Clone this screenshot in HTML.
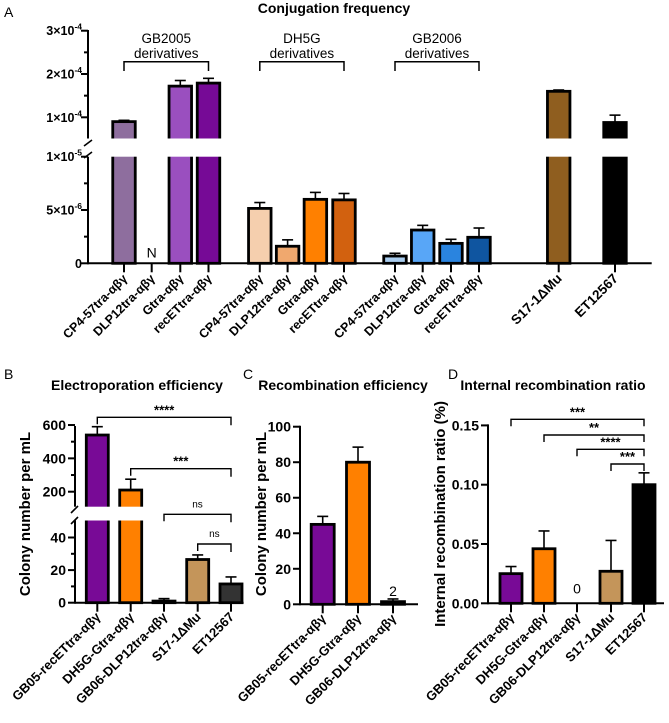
<!DOCTYPE html>
<html><head><meta charset="utf-8"><style>
html,body{margin:0;padding:0;background:#fff;}
svg{display:block;font-family:"Liberation Sans",Arial,sans-serif;}
</style></head><body>
<svg id="fig" width="669" height="723" viewBox="0 0 669 723" xmlns="http://www.w3.org/2000/svg"></svg>
<script>
// ---------- Panel A data ----------
const aCategories = ["CP4-57tra-αβγ","DLP12tra-αβγ","Gtra-αβγ","recETtra-αβγ","CP4-57tra-αβγ","DLP12tra-αβγ","Gtra-αβγ","recETtra-αβγ","CP4-57tra-αβγ","DLP12tra-αβγ","Gtra-αβγ","recETtra-αβγ","S17-1ΔMu","ET12567"];
const aValues = [0.90e-4, 0, 1.72e-4, 1.79e-4, 5.15e-6, 1.6e-6, 6.0e-6, 5.95e-6, 0.68e-6, 3.12e-6, 1.87e-6, 2.44e-6, 1.6e-4, 0.88e-4];
const aErrors = [0.93e-4, 0, 1.85e-4, 1.9e-4, 5.7e-6, 2.2e-6, 6.65e-6, 6.55e-6, 0.94e-6, 3.56e-6, 2.25e-6, 3.31e-6, 1.63e-4, 1.05e-4];
const aColors = ["#8e6e9e","#9b59b6","#9a4fbf","#760a96","#f5cfae","#f0a86e","#ff8000","#d2610f","#a9ccee","#58a6f7","#2a84df","#0f55a0","#8f5e1f","#000000"];
const aGroups = ["GB2005","DH5G","GB2006"];
const aUpperTicks = [1e-4, 2e-4, 3e-4];
const aUpperTickLabels = ["1×10","2×10","3×10"];
const aUpperExp = ["-4","-4","-4"];
const aLowerTicks = [0, 5e-6, 1e-5];
const aLowerTickLabels = ["0","5×10","1×10"];
const aLowerExp = ["","-6","-5"];
// ---------- Panel B data ----------
const bCategories = ["GB05-recETtra-αβγ","DH5G-Gtra-αβγ","GB06-DLP12tra-αβγ","S17-1ΔMu","ET12567"];
const bValues = [540, 210, 1, 26.5, 11.5];
const bErrors = [590, 275, 2.5, 29.3, 15.8];
const bColors = ["#780a96","#ff8000","#999999","#c4955a","#333333"];
const bUpperTicks = [200, 400, 600];
const bLowerTicks = [0, 20, 40];
const bSig = ["****","***","ns","ns"];
const bSigFrom = [0, 1, 2, 3];
// ---------- Panel C data ----------
const cCategories = ["GB05-recETtra-αβγ","DH5G-Gtra-αβγ","GB06-DLP12tra-αβγ"];
const cValues = [45, 80, 1.5];
const cErrors = [49.5, 88.5, 3];
const cColors = ["#780a96","#ff8000","#999999"];
const cTicks = [0, 20, 40, 60, 80, 100];
// ---------- Panel D data ----------
const dCategories = ["GB05-recETtra-αβγ","DH5G-Gtra-αβγ","GB06-DLP12tra-αβγ","S17-1ΔMu","ET12567"];
const dValues = [0.025, 0.046, 0, 0.027, 0.1];
const dErrors = [0.031, 0.061, 0, 0.053, 0.11];
const dColors = ["#780a96","#ff8000","#999999","#c4955a","#000000"];
const dTicks = [0, 0.05, 0.10, 0.15];
const dTickLabels = ["0.00","0.05","0.10","0.15"];
const dSig = ["***","**","****","***"];
const dSigFrom = [0, 1, 2, 3];

const NS = "http://www.w3.org/2000/svg";
const svg = document.getElementById("fig");
function mk(tag, attrs, parent) {
  const e = document.createElementNS(NS, tag);
  for (const k in attrs) e.setAttribute(k, attrs[k]);
  (parent || svg).appendChild(e);
  return e;
}
function line(x1, y1, x2, y2, w, parent) {
  return mk("line", {x1, y1, x2, y2, stroke: "#000", "stroke-width": w || 2}, parent);
}
function txt(x, y, s, size, anchor, weight, parent) {
  const t = mk("text", {x, y, "font-size": size, "text-anchor": anchor || "middle", "font-weight": weight || "bold", fill: "#000"}, parent);
  t.textContent = s;
  return t;
}
function xlabel(x, y, s, size, parent) {
  const t = mk("text", {x, y, "font-size": size, "text-anchor": "end", "font-weight": "bold", transform: "rotate(-45 " + x + " " + y + ")"}, parent);
  t.textContent = s;
  return t;
}
function drawBar(parent, cx, yTop, yBase, w, fill) {
  return mk("rect", {x: cx - w / 2, y: yTop, width: w, height: Math.max(0, yBase - yTop), fill, stroke: "#000", "stroke-width": 2.8}, parent);
}
function drawErr(parent, cx, yTop, yBar) {
  const g = mk("g", {}, parent);
  line(cx, yBar, cx, yTop, 1.6, g);
  line(cx - 5.5, yTop, cx + 5.5, yTop, 1.6, g);
  return g;
}

// Titles & panel letters
const labelsMeta = [["A", 4, 17], ["B", 4, 379], ["C", 243, 379], ["D", 448, 379]];
labelsMeta.forEach(m => {
  const t = mk("text", {x: m[1], y: m[2], "font-size": 14, fill: "#000"});
  
  
  t.textContent = m[0];
});
const tA = txt(334, 13, "Conjugation frequency", 14);


const tB = txt(137, 390, "Electroporation efficiency", 14);


const tC = txt(343, 390, "Recombination efficiency", 14);


const tD = txt(553, 390, "Internal recombination ratio", 14);



// ================= Panel A =================
const gA = mk("g", {});


const axA = 88, zeroA = 263.3, breakTopA = 138.5, breakBotA = 156.7;
function yA(v) {
  if (v <= 1e-5) return zeroA - v * 1e6 * 10.66;
  return 117.3 - (v - 1e-4) / 1e-4 * 43.3;
}
const xA = [124, 151.7, 180.3, 208.5, 259.8, 287.6, 315.4, 344, 395, 422.7, 451, 479, 558.7, 615];
aValues.forEach((v, i) => {
  const cx = xA[i];
  if (v > 0) {
    const b = drawBar(gA, cx, yA(v), zeroA, 22.5, aColors[i]);
    
    
    const e = drawErr(gA, cx, yA(aErrors[i]), yA(v));
    
    
    if (v > 1e-5) {
      const gap = mk("rect", {x: cx - 14, y: breakTopA, width: 28, height: breakBotA - breakTopA, fill: "#fff"}, gA);
      
      
    }
  } else {
    const n = txt(cx, zeroA - 6, "N", 14, "middle", "normal", gA);
    
    
  }
  line(cx, zeroA, cx, zeroA + 9, 2, gA);
  const lb = xlabel(cx + 4, zeroA + 16, aCategories[i], i >= 12 ? 13.5 : 12.5, gA);
  
  
});
line(axA, 30, axA, breakTopA, 2, gA);
line(axA, breakBotA, axA, zeroA + 1, 2, gA);
line(axA - 4, 146, axA + 4, 140, 1.6, gA);
line(axA - 4, 158, axA + 4, 152, 1.6, gA);
const xaxA = line(axA, zeroA, 651.7, zeroA, 2, gA);


function expLabel(x, y, base, exp, parent) {
  const t = mk("text", {x, y, "font-size": 12.5, "text-anchor": "end", "font-weight": "bold"}, parent);
  t.appendChild(document.createTextNode(base));
  if (exp) {
    const s = mk("tspan", {dy: -5.5, "font-size": 8.5}, t);
    s.textContent = exp;
  }
  return t;
}
aUpperTicks.forEach((v, i) => {
  const y = yA(v);
  line(axA - 7, y, axA, y, 2, gA);
  const l = expLabel(axA - 6, y + 4.5, aUpperTickLabels[i], aUpperExp[i], gA);
  
  
});
[1.5e-4, 2.5e-4].forEach(v => line(axA - 4, yA(v), axA, yA(v), 2, gA));
aLowerTicks.forEach((v, i) => {
  const y = yA(v);
  line(axA - 7, y, axA, y, 2, gA);
  const l = expLabel(axA - 6, y + 4.5, aLowerTickLabels[i], aLowerExp[i], gA);
  
  
});
[2.5e-6, 7.5e-6].forEach(v => line(axA - 4, yA(v), axA, yA(v), 2, gA));
aGroups.forEach((g, k) => {
  const x1 = xA[k * 4], x2 = xA[k * 4 + 3], xm = (x1 + x2) / 2;
  const br = mk("path", {d: `M${x1},71 L${x1},61.7 L${x2},61.7 L${x2},71`, fill: "none", stroke: "#000", "stroke-width": 1.5}, gA);
  
  
  const t1 = txt(xm, 43, g, 13.5, "middle", "normal", gA);
  
  
  const t2 = txt(xm, 58, "derivatives", 13.5, "middle", "normal", gA);
  
  
});

// ================= Panel B =================
const gB = mk("g", {});


const axB = 75, zeroB = 602.7, bBreakTop = 506.7, bBreakBot = 520.5;
function yB(v) {
  if (v <= 50) return zeroB - v * 1.63;
  return 491.7 - (v - 200) * 0.1667;
}
const xB = [97.3, 130.7, 164, 197.7, 231];
bValues.forEach((v, i) => {
  const cx = xB[i];
  const b = drawBar(gB, cx, yB(v), zeroB, 22, bColors[i]);
  
  
  const e = drawErr(gB, cx, yB(bErrors[i]), yB(v));
  
  
  if (v > 50) {
    const gap = mk("rect", {x: cx - 14, y: bBreakTop, width: 28, height: bBreakBot - bBreakTop, fill: "#fff"}, gB);
    
    
  }
  line(cx, zeroB, cx, zeroB + 9, 2, gB);
  const lb = xlabel(cx + 4, zeroB + 15, bCategories[i], 13, gB);
  
  
});
line(axB, 426, axB, bBreakTop, 2, gB);
line(axB, bBreakBot, axB, zeroB + 1, 2, gB);
line(axB - 4, 513, axB + 3, 506, 1.6, gB);
line(axB - 4, 524, axB + 3, 517, 1.6, gB);
const xaxB = line(axB, zeroB, 243.6, zeroB, 2, gB);


bUpperTicks.concat(bLowerTicks).forEach(v => {
  const y = yB(v);
  line(axB - 7, y, axB, y, 2, gB);
  const l = txt(axB - 9, y + 5, String(v), 14, "end", "bold", gB);
  
  
});
[300, 500, 10, 30].forEach(v => line(axB - 4, yB(v), axB, yB(v), 2, gB));
const yTitleB = mk("text", {x: 0, y: 0, "font-size": 15, "font-weight": "bold", "text-anchor": "middle", transform: "translate(30 514) rotate(-90)"}, gB);


yTitleB.textContent = "Colony number per mL";
const bSigY = [417.3, 468.7, 514.3, 544];
bSig.forEach((s, k) => {
  const x1 = xB[bSigFrom[k]], x2 = xB[4], y = bSigY[k];
  const p = mk("path", {d: `M${x1},${y + 7} L${x1},${y} L${x2},${y} L${x2},${y + 8}`, fill: "none", stroke: "#000", "stroke-width": 1.4}, gB);
  
  
  const t = txt((x1 + x2) / 2, s === "ns" ? y - 7 : y - 3, s, s === "ns" ? 10 : 13, "middle", s === "ns" ? "normal" : "bold", gB);
  
  
});

// ================= Panel C =================
const gC = mk("g", {});


const axC = 300, zeroC = 604.3;
function yC(v) { return zeroC - v * 1.776; }
const xC = [322.7, 358, 393];
cValues.forEach((v, i) => {
  const cx = xC[i];
  const b = drawBar(gC, cx, yC(v), zeroC, 23, cColors[i]);
  
  
  const e = drawErr(gC, cx, yC(cErrors[i]), yC(v));
  
  
  line(cx, zeroC, cx, zeroC + 9, 2, gC);
  const lb = xlabel(cx + 4, zeroC + 15, cCategories[i], 13, gC);
  
  
});
const cLbl = txt(xC[2], yC(cErrors[2]) - 3, "2", 14, "middle", "normal", gC);


line(axC, yC(100) - 1, axC, zeroC + 1, 2, gC);
const xaxC = line(axC, zeroC, 418, zeroC, 2, gC);


cTicks.forEach(v => {
  const y = yC(v);
  line(axC - 7, y, axC, y, 2, gC);
  const l = txt(axC - 9, y + 5, String(v), 14, "end", "bold", gC);
  
  
});
const yTitleC = mk("text", {x: 0, y: 0, "font-size": 15, "font-weight": "bold", "text-anchor": "middle", transform: "translate(266 514) rotate(-90)"}, gC);


yTitleC.textContent = "Colony number per mL";

// ================= Panel D =================
const gD = mk("g", {});


const axD = 488, zeroD = 603.3;
function yD(v) { return zeroD - v / 0.05 * 59.3; }
const xD = [511, 544, 577, 611, 644];
dValues.forEach((v, i) => {
  const cx = xD[i];
  if (v > 0) {
    const b = drawBar(gD, cx, yD(v), zeroD, 22, dColors[i]);
    
    
    const e = drawErr(gD, cx, yD(dErrors[i]), yD(v));
    
    
  } else {
    const z = txt(cx, zeroD - 10, "0", 14, "middle", "normal", gD);
    
    
  }
  line(cx, zeroD, cx, zeroD + 9, 2, gD);
  const lb = xlabel(cx + 4, zeroD + 15, dCategories[i], 13, gD);
  
  
});
line(axD, yD(0.15) - 1, axD, zeroD + 1, 2, gD);
const xaxD = line(axD, zeroD, 664, zeroD, 2, gD);


dTicks.forEach((v, i) => {
  const y = yD(v);
  line(axD - 7, y, axD, y, 2, gD);
  const l = txt(axD - 9, y + 5, dTickLabels[i], 14, "end", "bold", gD);
  
  
});
const yTitleD = mk("text", {x: 0, y: 0, "font-size": 15, "font-weight": "bold", "text-anchor": "middle", transform: "translate(445 514) rotate(-90)"}, gD);


yTitleD.textContent = "Internal recombination ratio (%)";
const dSigY = [419.3, 435, 449.3, 464];
dSig.forEach((s, k) => {
  const x1 = xD[dSigFrom[k]], x2 = xD[4], y = dSigY[k];
  const p = mk("path", {d: `M${x1},${y + 7} L${x1},${y} L${x2},${y} L${x2},${y + 7}`, fill: "none", stroke: "#000", "stroke-width": 1.4}, gD);
  
  
  const t = txt((x1 + x2) / 2, y - 3, s, 13, "middle", "bold", gD);
  
  
});
</script>
</body></html>
